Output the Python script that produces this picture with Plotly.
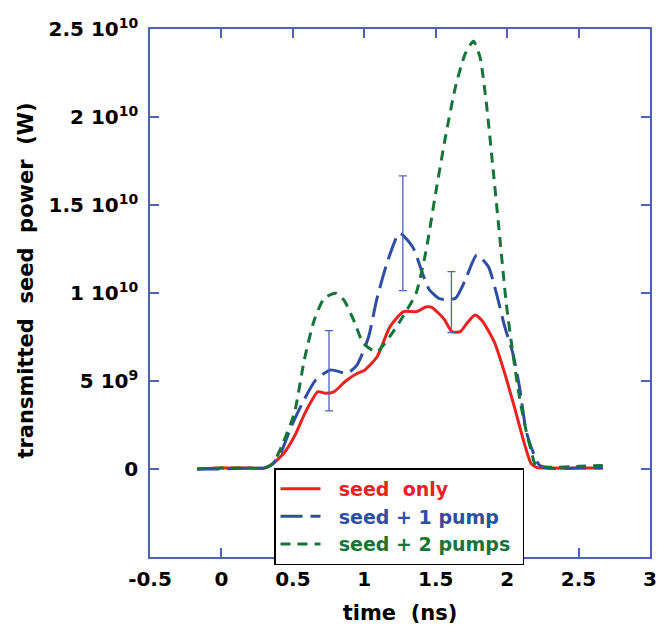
import plotly.graph_objects as go

# seed only (red)
t_red = [-0.17, 0.0, 0.2, 0.3, 0.36, 0.445, 0.52, 0.584, 0.676, 0.73, 0.79, 0.87, 0.952, 1.0, 1.09, 1.18, 1.275, 1.367, 1.43, 1.47, 1.52, 1.56, 1.615, 1.672, 1.72, 1.776, 1.83, 1.914, 1.983, 2.05, 2.12, 2.167, 2.21, 2.3, 2.5, 2.67]
p_red = [0.0, 0.05e9, 0.05e9, 0.05e9, 0.3e9, 0.98e9, 2.0e9, 3.16e9, 4.39e9, 4.3e9, 4.4e9, 5.0e9, 5.44e9, 5.6e9, 6.38e9, 8.09e9, 8.94e9, 8.94e9, 9.2e9, 9.2e9, 8.85e9, 8.5e9, 7.8e9, 7.8e9, 8.3e9, 8.75e9, 8.37e9, 7.14e9, 5.44e9, 3.54e9, 1.46e9, 0.32e9, 0.08e9, 0.05e9, 0.05e9, 0.05e9]

# seed + 1 pump (blue)
t_blue = [-0.17, 0.0, 0.2, 0.3, 0.36, 0.42, 0.488, 0.57, 0.66, 0.764, 0.88, 0.948, 1.03, 1.086, 1.167, 1.247, 1.34, 1.408, 1.454, 1.52, 1.546, 1.638, 1.707, 1.787, 1.868, 1.925, 1.983, 2.04, 2.086, 2.132, 2.167, 2.224, 2.28, 2.5, 2.67]
p_blue = [0.0, 0.0, 0.05e9, 0.05e9, 0.3e9, 1.0e9, 2.4e9, 3.8e9, 5.06e9, 5.63e9, 5.44e9, 5.9e9, 7.5e9, 9.6e9, 11.9e9, 13.4e9, 12.6e9, 11.1e9, 10.2e9, 9.7e9, 9.64e9, 9.7e9, 10.74e9, 12.16e9, 11.5e9, 9.98e9, 8.09e9, 6.57e9, 4.68e9, 2.2e9, 1.27e9, 0.23e9, 0.05e9, 0.05e9, 0.05e9]

# seed + 2 pumps (green)
t_green = [-0.17, 0.0, 0.2, 0.3, 0.36, 0.42, 0.51, 0.58, 0.65, 0.72, 0.8, 0.857, 0.925, 0.994, 1.086, 1.178, 1.27, 1.362, 1.43, 1.5, 1.569, 1.638, 1.707, 1.764, 1.81, 1.857, 1.902, 1.948, 1.994, 2.04, 2.086, 2.132, 2.167, 2.2, 2.3, 2.5, 2.67]
p_green = [0.0, 0.05e9, 0.05e9, 0.05e9, 0.3e9, 1.27e9, 3.16e9, 6.2e9, 8.47e9, 9.7e9, 9.98e9, 9.6e9, 8.47e9, 7.14e9, 6.66e9, 7.52e9, 8.65e9, 9.98e9, 12.3e9, 15.7e9, 18.9e9, 21.7e9, 23.6e9, 24.3e9, 23.4e9, 20.6e9, 17.0e9, 13.2e9, 9.4e9, 6.57e9, 4.1e9, 2.2e9, 1.08e9, 0.23e9, 0.1e9, 0.15e9, 0.2e9]

# error bars on seed + 1 pump
err_t = [0.753, 1.27, 1.61]
err_center = [5.58e9, 13.39e9, 9.48e9]
err_half = [2.28e9, 3.26e9, 1.73e9]

y_tickvals = [0, 5e9, 1e10, 1.5e10, 2e10, 2.5e10]
y_ticktext = ["0", "5 10<sup>9</sup>", "1 10<sup>10</sup>", "1.5 10<sup>10</sup>", "2 10<sup>10</sup>", "2.5 10<sup>10</sup>"]
x_tickvals = [-0.5, 0, 0.5, 1, 1.5, 2, 2.5, 3]
x_ticktext = ["-0.5", "0", "0.5", "1", "1.5", "2", "2.5", "3"]

RED = "#e8231f"
BLUE = "#2f4ea3"
GREEN = "#16743a"
AXIS = "#5062b8"
FONT = "DejaVu Sans, Liberation Sans, Arial, sans-serif"

fig = go.Figure()
fig.add_trace(go.Scatter(x=t_red, y=p_red, mode="lines", line=dict(color=RED, width=3, shape="spline", smoothing=0.6),
                         name=f"<span style='color:{RED}'>&nbsp;&nbsp;seed&nbsp; only</span>"))
fig.add_trace(go.Scatter(x=t_blue, y=p_blue, mode="lines", line=dict(color=BLUE, width=3, dash="22px,8px", shape="spline", smoothing=0.6),
                         name=f"<span style='color:{BLUE}'>&nbsp;&nbsp;seed + 1 pump</span>"))
fig.add_trace(go.Scatter(x=t_green, y=p_green, mode="lines", line=dict(color=GREEN, width=3, dash="10px,7px", shape="spline", smoothing=0.6),
                         name=f"<span style='color:{GREEN}'>&nbsp;&nbsp;seed + 2 pumps&nbsp;</span>"))
fig.add_trace(go.Scatter(x=err_t, y=err_center, mode="markers", marker=dict(size=1, color="rgba(0,0,0,0)"),
                         error_y=dict(type="data", array=err_half, visible=True, color=AXIS, thickness=1.3, width=4),
                         showlegend=False, hoverinfo="skip"))

axis_common = dict(showline=True, linecolor=AXIS, linewidth=1.5, mirror="ticks", ticks="inside",
                   ticklen=9, tickcolor=AXIS, tickwidth=1.5, showgrid=False, zeroline=False,
                   tickfont=dict(family=FONT, size=20, color="black", weight="bold"))

fig.update_xaxes(range=[-0.5, 3], tickvals=x_tickvals, ticktext=x_ticktext, ticklabelstandoff=3,
                 title=dict(text="time&nbsp; (ns)", font=dict(family=FONT, size=21, color="black", weight="bold"), standoff=16),
                 **axis_common)
fig.update_yaxes(range=[-5e9, 2.5e10], tickvals=y_tickvals, ticktext=y_ticktext, ticklabelstandoff=6,
                 **axis_common)

# y-axis title (placed slightly above centre, as in the original)
fig.add_annotation(text="transmitted&nbsp; seed&nbsp; power&nbsp; (W)", xref="paper", yref="paper",
                   x=-0.2485, y=0.523, xanchor="center", yanchor="middle", textangle=-90, showarrow=False,
                   font=dict(family=FONT, size=21, color="black", weight="bold"))

fig.update_layout(
    width=664, height=630,
    margin=dict(l=150, r=7, t=29, b=73),
    plot_bgcolor="white", paper_bgcolor="white",
    legend=dict(x=0.248, y=0.168, xanchor="left", yanchor="top",
                bordercolor="black", borderwidth=1.5, bgcolor="white",
                font=dict(family=FONT, size=19, weight="bold"),
                tracegroupgap=0, itemwidth=40),
    showlegend=True,
)

fig.write_html("out.html", config={"displayModeBar": False},
               post_script="document.body.style.margin='0px';")
